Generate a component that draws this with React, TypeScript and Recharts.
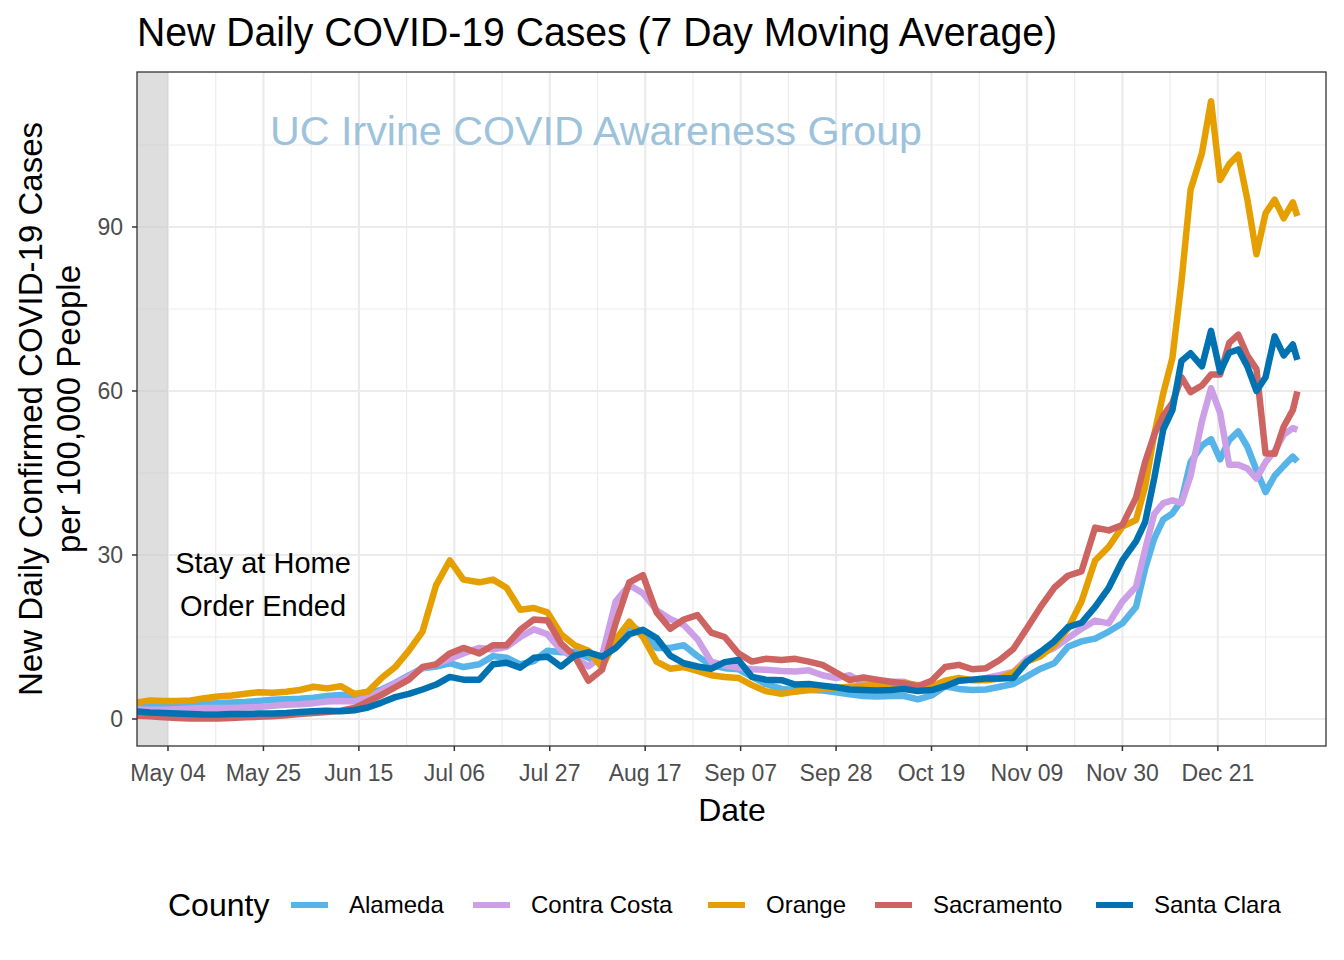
import { CartesianGrid, Line, LineChart, ReferenceArea, XAxis, YAxis } from 'recharts';

// days since May 04
const days = [
  -7, -4, -1, 2, 5, 8, 11, 14, 17, 20,
  23, 26, 29, 32, 35, 38, 41, 44, 47, 50,
  53, 56, 59, 62, 65, 68.5, 71.5, 74.5, 77.5, 80.5,
  83.5, 86.5, 89.5, 92.5, 95.5, 98.5, 101.5, 104.5, 107.5, 110.5,
  113.5, 116.5, 119.5, 122.5, 125.5, 128.5, 131.5, 135, 138, 141,
  144, 147, 150, 153, 156, 159, 162, 165, 168, 171,
  174, 177, 180, 183, 186, 189, 192, 195, 198, 201,
  204, 207, 210, 213, 215, 217, 219, 221, 223, 225,
  227.5, 229.5, 231.5, 233.5, 235.5, 237.5, 239.5, 241.5, 243.5, 245.5,
  247.5, 248.5,
];

const alameda = [
  2.6, 2.6, 2.5, 2.6, 2.7, 2.8, 2.9, 3.0, 3.1, 3.3,
  3.5, 3.6, 3.7, 3.9, 4.2, 4.4, 4.3, 4.6, 5.4, 6.6,
  8.0, 9.3, 9.6, 10.2, 9.5, 10.0, 11.5, 11.2, 10.0, 10.6,
  12.5, 12.2, 12.3, 11.2, 10.0, 14.0, 17.0, 16.0, 13.0, 13.0,
  13.5, 11.5, 9.8, 9.3, 9.1, 7.7, 6.4, 5.5, 5.3, 5.3,
  5.2, 4.9, 4.5, 4.2, 4.1, 4.2, 4.2, 3.6, 4.3, 6.0,
  5.5, 5.3, 5.4, 5.9, 6.4, 7.8, 9.2, 10.2, 13.2, 14.2,
  14.7, 16.0, 17.5, 20.5, 27.5, 33.0, 36.5, 37.6, 40.0, 47.0,
  50.0, 51.2, 47.5, 51.0, 52.6, 49.8, 45.5, 41.5, 44.5, 46.3,
  48.0, 47.1,
];

const contraCosta = [
  1.8, 1.7, 1.7, 1.8, 1.9, 2.0, 2.0, 2.0, 2.1, 2.2,
  2.4, 2.6, 2.7, 2.9, 3.2, 3.3, 3.2, 3.9, 5.2, 6.5,
  7.8, 9.3, 10.0, 11.0, 12.0, 13.0, 12.7, 13.2, 15.0, 16.4,
  15.5, 12.6, 11.2, 9.6, 11.5, 21.5, 24.5, 23.0, 19.9, 18.3,
  17.2, 14.6, 10.5, 9.8, 9.4, 9.1, 9.0, 8.8, 8.7, 8.9,
  8.0, 7.5, 8.0, 6.6, 6.7, 6.8, 6.8, 5.9, 5.6, 6.5,
  7.0, 7.2, 7.5, 8.0, 8.6, 11.0, 12.0, 13.0, 14.8, 16.5,
  18.0, 17.5, 21.5, 24.2, 31.0, 37.5, 39.5, 40.0, 39.5, 44.5,
  54.5, 60.5, 56.0, 46.5, 46.5, 45.8, 44.0, 47.0, 49.0, 52.0,
  53.2, 52.9,
];

const orange = [
  3.0, 3.4, 3.3, 3.3, 3.4, 3.8, 4.1, 4.3, 4.6, 4.9,
  4.8, 5.0, 5.3, 5.9, 5.6, 6.0, 4.6, 5.0, 7.5, 9.5,
  12.5, 16.0, 24.5, 29.0, 25.5, 25.0, 25.5, 24.0, 20.0, 20.3,
  19.5, 15.5, 13.5, 12.5, 9.5, 14.5, 17.8, 15.0, 10.5, 9.2,
  9.5, 8.8, 8.0, 7.7, 7.5, 6.2, 5.1, 4.6, 5.0, 5.3,
  5.5, 5.7, 5.9, 6.1, 6.2, 6.3, 6.6, 6.2, 6.0, 7.0,
  7.5, 7.1, 7.1, 7.4, 8.5, 10.5, 11.5, 13.5, 16.5, 21.5,
  29.0, 31.5, 35.2, 36.4, 42.5, 52.0, 59.6, 66.0, 80.0, 96.8,
  103.5, 113.0, 98.6, 101.5, 103.2, 95.0, 85.0, 92.5, 95.0, 91.6,
  94.5, 92.0,
];

const sacramento = [
  0.6, 0.5, 0.3, 0.2, 0.1, 0.1, 0.1, 0.2, 0.3, 0.4,
  0.5, 0.7, 0.9, 1.1, 1.3, 1.5, 2.0, 3.2, 4.4, 5.8,
  7.2, 9.5, 10.0, 12.0, 13.0, 12.0, 13.5, 13.5, 16.3, 18.2,
  18.0, 13.8, 11.5, 7.0, 9.0, 17.5, 25.0, 26.3, 19.5, 16.5,
  18.2, 19.0, 15.8, 15.0, 12.0, 10.5, 11.0, 10.8, 11.0, 10.5,
  9.9, 8.5, 7.1, 7.6, 7.2, 6.8, 6.5, 6.0, 7.0, 9.5,
  9.9, 9.1, 9.3, 10.8, 12.8, 16.6, 20.5, 24.0, 26.2, 27.0,
  35.0, 34.5, 35.5, 40.5, 47.0, 52.0, 55.5, 57.8, 62.5, 59.8,
  61.0, 63.0, 63.0, 68.8, 70.3, 66.5, 64.0, 48.6, 48.5, 53.5,
  56.5, 59.9,
];

const santaClara = [
  1.4, 1.2, 1.1, 1.0, 0.9, 0.8, 0.8, 0.9, 0.9, 1.0,
  1.0, 1.1, 1.3, 1.4, 1.5, 1.4, 1.6, 2.1, 3.0, 4.0,
  4.6, 5.4, 6.3, 7.7, 7.2, 7.2, 10.0, 10.3, 9.4, 11.2,
  11.4, 9.6, 11.6, 12.2, 11.4, 13.0, 15.5, 16.3, 14.8, 11.6,
  10.2, 9.6, 9.2, 10.4, 10.8, 7.7, 7.2, 7.1, 6.3, 6.4,
  6.1, 5.8, 5.4, 5.3, 5.2, 5.3, 5.5, 5.1, 5.3, 6.0,
  7.0, 7.2, 7.4, 7.4, 7.5, 10.5, 12.3, 14.2, 16.8, 17.6,
  20.5, 24.0, 29.0, 32.5, 36.0, 44.0, 53.0, 56.5, 65.5, 66.9,
  64.5, 71.0, 63.5, 67.0, 67.6, 64.5, 60.0, 62.5, 70.0, 66.5,
  68.5, 65.7,
];

const counties = ['Alameda', 'Contra Costa', 'Orange', 'Sacramento', 'Santa Clara'];
const colors = ['#56B4E9', '#CC9FE6', '#E69F00', '#CD6461', '#0072B2'];
const seriesValues = [alameda, contraCosta, orange, sacramento, santaClara];

const tickDays = [0, 21, 42, 63, 84, 105, 126, 147, 168, 189, 210, 231];
const tickLabels = ['May 04', 'May 25', 'Jun 15', 'Jul 06', 'Jul 27', 'Aug 17', 'Sep 07', 'Sep 28', 'Oct 19', 'Nov 09', 'Nov 30', 'Dec 21'];
const minorDays = [10.5, 31.5, 52.5, 73.5, 94.5, 115.5, 136.5, 157.5, 178.5, 199.5, 220.5, 241.5];
const yTicks = [0, 30, 60, 90];
const yMinor = [15, 45, 75, 105];

const X_DOMAIN: [number, number] = [-6.82, 254.8];
const Y_DOMAIN: [number, number] = [-4.94, 118.35];

const data = days.map((day, i) => {
  const row: Record<string, number> = { day };
  counties.forEach((name, k) => {
    row[name] = seriesValues[k][i];
  });
  return row;
});

const font = '"Liberation Sans", Arial, Helvetica, sans-serif';
const legendTextX = [349, 531, 766, 933, 1154];

export default function App() {
  return (
    <div style={{ position: 'absolute', left: 0, top: 0, width: 1344, height: 960, background: '#fff', fontFamily: font }}>
      <LineChart width={1344} height={960} data={data} margin={{ top: 72, right: 18, bottom: 154, left: 77 }}>
        <CartesianGrid verticalValues={minorDays} horizontalValues={yMinor} stroke="#EBEBEB" strokeWidth={1.1} />
        <CartesianGrid verticalValues={tickDays} horizontalValues={yTicks} stroke="#EBEBEB" strokeWidth={2.2} />
        <ReferenceArea x1={X_DOMAIN[0]} x2={0} y1={Y_DOMAIN[0]} y2={Y_DOMAIN[1]} fill="#C8C8C8" fillOpacity={0.6} stroke="none" />
        <XAxis
          type="number"
          dataKey="day"
          domain={X_DOMAIN}
          allowDataOverflow
          ticks={tickDays}
          interval={0}
          tickFormatter={(v: number) => tickLabels[tickDays.indexOf(v)] ?? ''}
          tick={{ fontSize: 23, fill: '#4D4D4D', fontFamily: font }}
          tickLine={{ stroke: '#333333', strokeWidth: 1.5 }}
          tickSize={5}
          tickMargin={14}
          axisLine={false}
          height={60}
        />
        <YAxis
          type="number"
          domain={Y_DOMAIN}
          allowDataOverflow
          ticks={yTicks}
          interval={0}
          tick={{ fontSize: 23, fill: '#4D4D4D', fontFamily: font }}
          tickLine={{ stroke: '#333333', strokeWidth: 1.5 }}
          tickSize={5}
          tickMargin={9}
          axisLine={false}
          width={60}
        />
        {counties.map((name, k) => (
          <Line
            key={name}
            type="linear"
            dataKey={name}
            stroke={colors[k]}
            strokeWidth={6.5}
            strokeLinejoin="round"
            dot={false}
            activeDot={false}
            isAnimationActive={false}
          />
        ))}
      </LineChart>
      <svg width={1344} height={960} style={{ position: 'absolute', left: 0, top: 0, pointerEvents: 'none' }} fontFamily={font}>
        <rect x={137} y={72} width={1189} height={674} fill="none" stroke="#333333" strokeWidth={1.3} />
        <text x={137} y={46} fontSize={40} fill="#000" textLength={920} lengthAdjust="spacingAndGlyphs">
          New Daily COVID-19 Cases (7 Day Moving Average)
        </text>
        <text x={270} y={145} fontSize={41} fill="#9DC3DC" textLength={652} lengthAdjust="spacingAndGlyphs">
          UC Irvine COVID Awareness Group
        </text>
        <text x={263} y={573} fontSize={29} fill="#000" textAnchor="middle">Stay at Home</text>
        <text x={263} y={616} fontSize={29} fill="#000" textAnchor="middle">Order Ended</text>
        <text transform="translate(42,409) rotate(-90)" fontSize={33} fill="#000" textAnchor="middle">
          New Daily Confirmed COVID-19 Cases
        </text>
        <text transform="translate(80,409) rotate(-90)" fontSize={33} fill="#000" textAnchor="middle">
          per 100,000 People
        </text>
        <text x={732} y={821} fontSize={32} fill="#000" textAnchor="middle">Date</text>
        <text x={168} y={916} fontSize={32} fill="#000">County</text>
        {counties.map((name, k) => (
          <g key={name}>
            <line x1={legendTextX[k] - 58} x2={legendTextX[k] - 21} y1={905} y2={905} stroke={colors[k]} strokeWidth={6} />
            <text x={legendTextX[k]} y={913} fontSize={24} fill="#000">{name}</text>
          </g>
        ))}
      </svg>
    </div>
  );
}
